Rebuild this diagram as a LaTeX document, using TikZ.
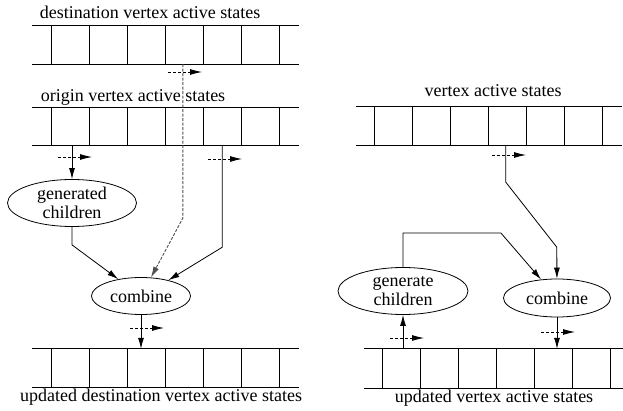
\documentclass[tikz,border=0pt]{standalone}
\usepackage{fontspec}
\setmainfont{Liberation Serif}
\usepackage{xcolor}
\definecolor{lineDark}{HTML}{000000}
\definecolor{probeGray}{HTML}{505050}
\usepackage{tikz}
\usetikzlibrary{shapes.geometric,arrows.meta,positioning,calc}
\tikzset{%
  stateArray/.style={%
    rectangle,
    draw=none,
    inner sep=0pt,
    minimum width=266pt,
    minimum height=38pt
  },
  arrayLine/.style={%
    line width=0.9pt,
    color=lineDark
  },
  opEllipse/.style={%
    ellipse,
    draw=lineDark,
    line width=0.8pt,
    inner sep=0pt,
    align=center,
    font=\fontsize{18}{19.5}\selectfont
  },
  arrayLabel/.style={%
    anchor=base,
    inner sep=0pt,
    font=\fontsize{18}{20}\selectfont
  },
  flowArrow/.style={%
    -{Latex[length=11pt,width=6pt]},
    line width=0.8pt,
    color=lineDark
  },
  probeLine/.style={%
    -{Latex[length=11pt,width=6pt]},
    line width=0.9pt,
    dash pattern=on 3pt off 1.5pt,
    color=probeGray
  },
  stepMark/.style={%
    -{Latex[length=12pt,width=6pt]},
    line width=0.8pt,
    dash pattern=on 3pt off 2pt,
    color=lineDark
  }
}

\begin{document}
\begin{tikzpicture}[x=1pt,y=-1pt]
  \useasboundingbox (0,0) rectangle (623,411);

  % left: origin/destination pair
  \node[stateArray] (dst) at (165.5,45) {};
  \node[stateArray, minimum height=37pt] (org) at (165.5,126.5) {};
  \node[stateArray] (upd) at (165.5,368) {};
  % right: single state array
  \node[stateArray] (vas) at (489,126) {};
  \node[stateArray, minimum width=259pt, minimum height=39pt] (uvs) at (493.5,368.5) {};

  \foreach \arr in {dst,org,upd,vas,uvs} {
    \draw[arrayLine] (\arr.north west) -- (\arr.north east)
                     (\arr.south west) -- (\arr.south east);
    \foreach \k in {0,...,6}
      \draw[arrayLine] ([xshift=19pt+\k*38pt]\arr.north west) -- ([xshift=19pt+\k*38pt]\arr.south west);
  }

  \node[arrayLabel] (dstLabel) at (150,19) {destination vertex active states};
  \node[arrayLabel] (orgLabel) at (133,102) {origin vertex active states};
  \node[arrayLabel] (updLabel) at (161,401) {updated destination vertex active states};
  \node[arrayLabel] (vasLabel) at (493,97) {vertex active states};
  \node[arrayLabel] (uvsLabel) at (494,402) {updated vertex active states};

  \node[opEllipse, minimum width=129pt, minimum height=47pt] (gen) at (72,203) {generated\\children};
  \node[opEllipse, minimum width=99pt, minimum height=37pt] (comb) at (141,296) {combine};
  \node[opEllipse, minimum width=130pt, minimum height=47pt] (gen2) at (403,291) {generate\\children};
  \node[opEllipse, minimum width=107pt, minimum height=38pt] (comb2) at (557,298) {combine};

  % left flows
  \draw[flowArrow] (gen.north |- org.south) -- (gen);
  \draw[flowArrow] (gen.south) -- ++(0,18) -- (comb);
  \draw[probeLine] ([xshift=150.5pt]dst.south west) -- ++(0,154) -- (comb);
  \draw[flowArrow] ([xshift=190pt]org.south west) -- ++(0,102) -- (comb.30);
  \draw[flowArrow] (comb) -- (comb |- upd.north);

  % right flows
  \draw[flowArrow] ([xshift=150pt]vas.south west) -- ++(0,37) -- ++(51,65) -- (comb2);
  \draw[flowArrow] (gen2.north) -- ++(0,-34) -- ++(98,0) -- (comb2);
  \draw[flowArrow] (gen2 |- uvs.north) -- (gen2);
  \draw[flowArrow] (comb2) -- (comb2 |- uvs.north);

  % step marks
  \foreach \x/\y in {168/72, 58/157, 208/159, 130/328, 492/155, 390/338, 541/332}
    \draw[stepMark] (\x,\y) -- ++(34,0);
\end{tikzpicture}
\end{document}
